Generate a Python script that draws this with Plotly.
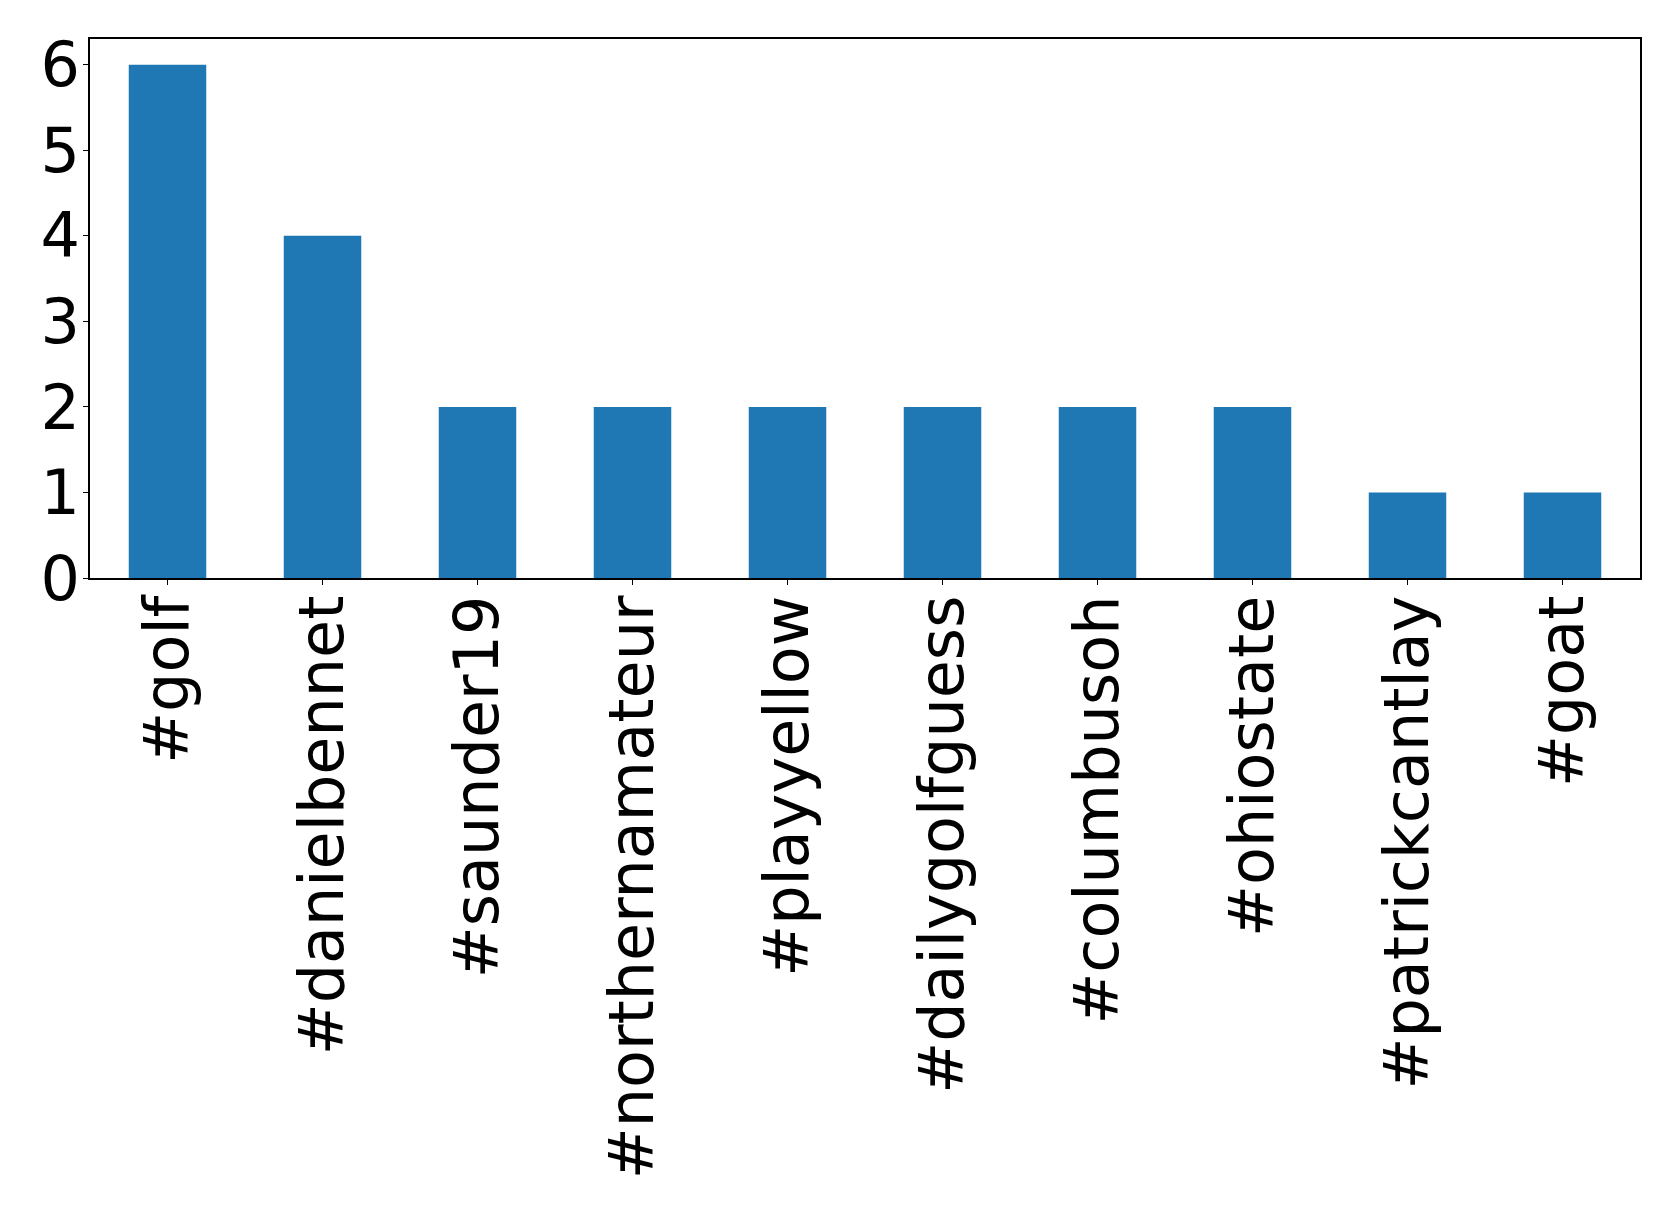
import plotly.graph_objects as go

categories = ["#golf", "#danielbennet", "#saunder19", "#northernamateur", "#playyellow",
              "#dailygolfguess", "#columbusoh", "#ohiostate", "#patrickcantlay", "#goat"]
counts = [6, 4, 2, 2, 2, 2, 2, 2, 1, 1]
y_ticks = [0, 1, 2, 3, 4, 5, 6]

fig = go.Figure(go.Bar(x=categories, y=counts, marker_color="#1f77b4", marker_line_width=0))

font = dict(family="DejaVu Sans", size=62, color="black")
# page body has an 8px default margin, so figure is offset accordingly
fig.update_layout(
    width=1671, height=1208,
    margin=dict(l=82, r=39, t=31, b=638),
    plot_bgcolor="white", paper_bgcolor="white",
    bargap=0.5, showlegend=False,
    font=font,
)
fig.update_xaxes(
    type="category", range=[-0.5, 9.5], tickangle=-90, automargin=False,
    showline=True, linecolor="black", linewidth=1.5, mirror=True,
    ticks="outside", ticklen=5, tickcolor="black", tickfont=font, showgrid=False,
    ticklabelstandoff=-14,
)
fig.update_yaxes(
    range=[0, 6.3], tickvals=y_ticks, automargin=False,
    showline=True, linecolor="black", linewidth=1.5, mirror=True,
    ticks="outside", ticklen=5, tickcolor="black", tickfont=font, showgrid=False, zeroline=False,
    ticklabelstandoff=-9,
)
fig.write_html("out.html")
